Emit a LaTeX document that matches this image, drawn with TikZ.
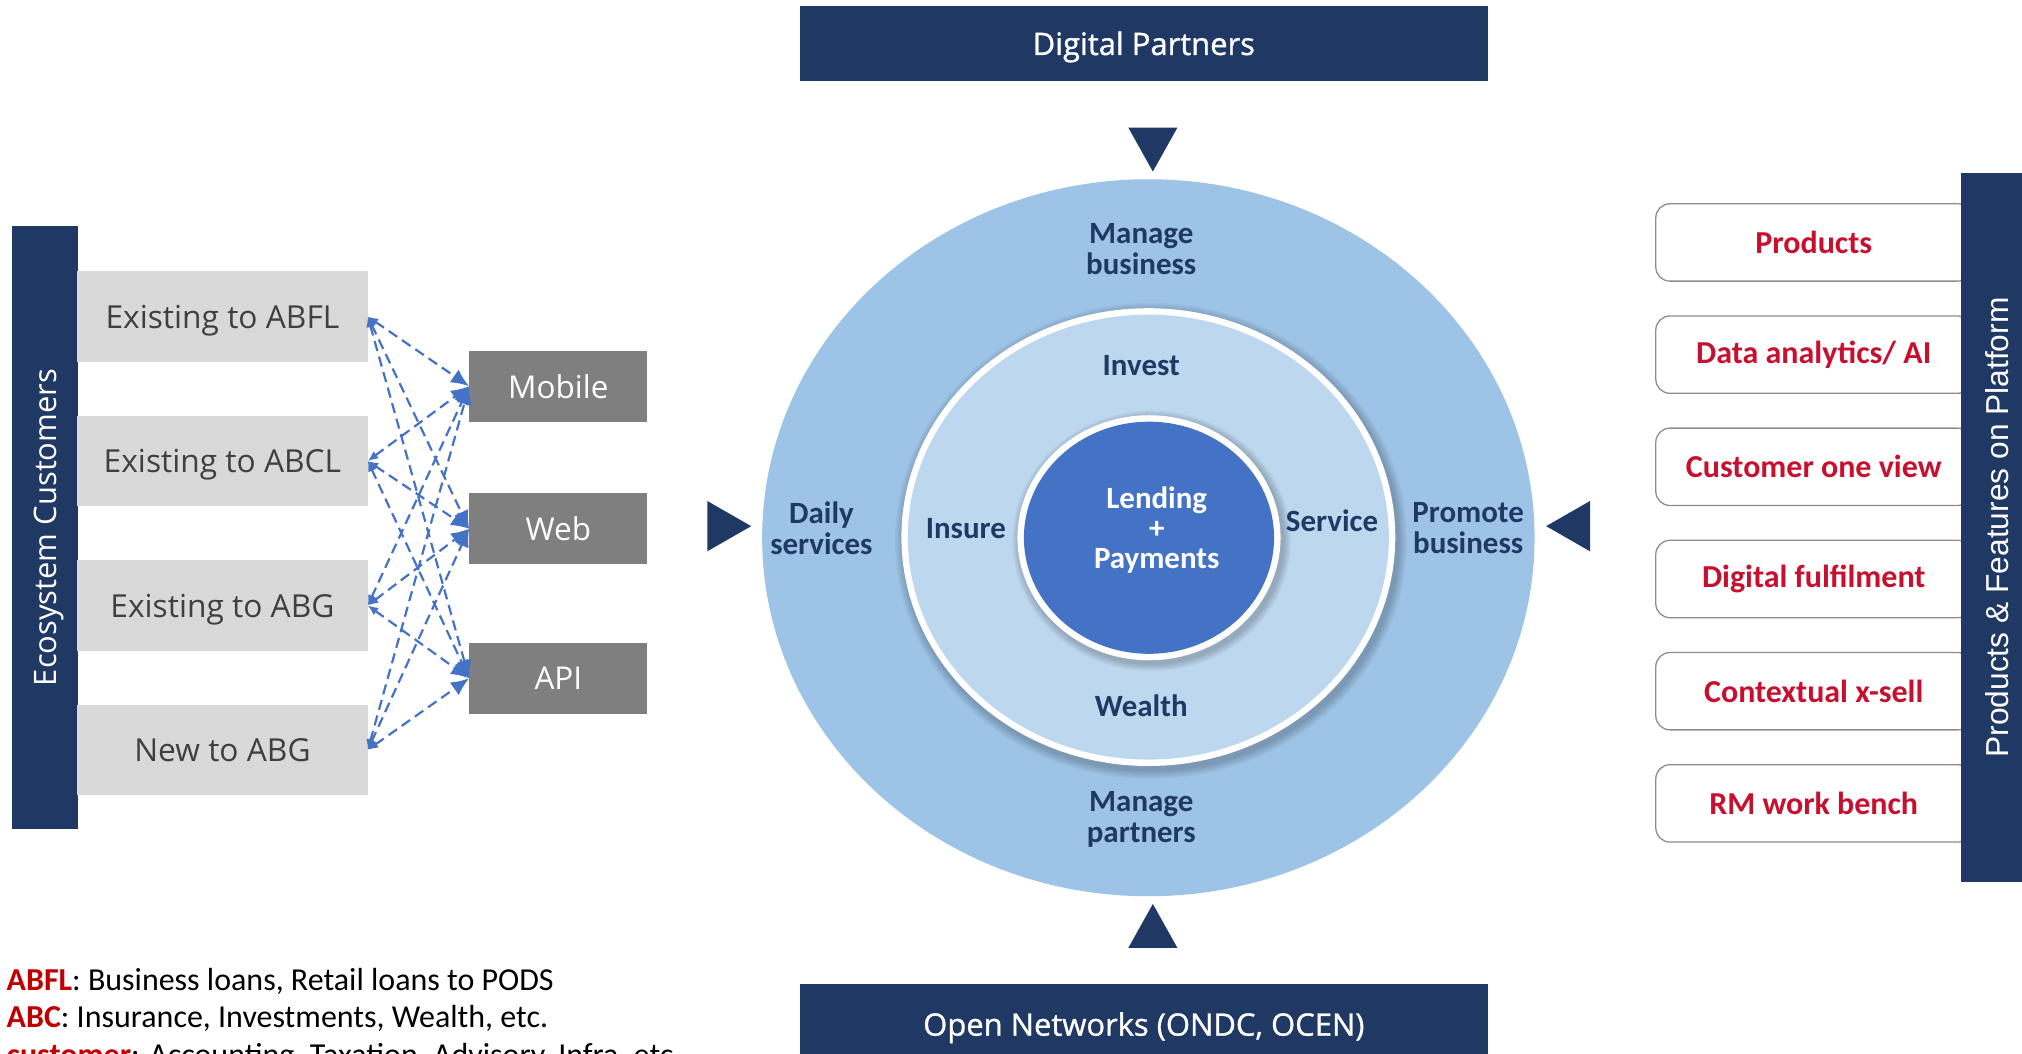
\documentclass[tikz,border=0pt]{standalone}
\usepackage{fontspec}
\usetikzlibrary{arrows.meta}
\setmainfont{Carlito}
\newfontfamily\plexfont{Open Sans}
\newfontfamily\plexheavy[FakeBold=1]{Open Sans}
\newfontfamily\arialfont{Liberation Sans}

\definecolor{navy}{HTML}{203864}
\definecolor{segfill}{HTML}{D9D9D9}
\definecolor{segtext}{HTML}{404040}
\definecolor{chfill}{HTML}{7F7F7F}
\definecolor{linkblue}{HTML}{4472C4}
\definecolor{outerblue}{HTML}{9DC3E6}
\definecolor{midblue}{HTML}{BDD7EE}
\definecolor{coreblue}{HTML}{4472C4}
\definecolor{hubtext}{HTML}{1F3864}
\definecolor{featline}{HTML}{8C8C8C}
\definecolor{featred}{HTML}{C8102E}
\definecolor{legendred}{HTML}{C00000}

\begin{document}
\begin{tikzpicture}[x=1pt, y=-1pt,
  band/.style={fill=navy, text=white, inner sep=0pt},
  segment/.style={fill=segfill, text=segtext, minimum width=225pt, minimum height=70pt,
    inner sep=0pt, text depth=0pt, font=\plexfont\fontsize{24.6}{28}\selectfont},
  channel/.style={fill=chfill, text=white, minimum width=138pt, minimum height=55pt,
    inner sep=0pt, text depth=0pt, font=\plexfont\fontsize{24.4}{28}\selectfont},
  link/.style={draw=linkblue, line width=1.7pt, dash pattern=on 8pt off 4.5pt,
    {Latex[length=8pt,width=7pt]}-{Latex[length=14pt,width=12pt]}},
  banner/.style={fill=navy, minimum width=534pt, inner sep=0pt},
  bannertext/.style={text=white, inner sep=0pt, text depth=0pt,
    font=\plexheavy\fontsize{24}{28}\selectfont},
  hublabel/.style={text=hubtext, align=center, inner sep=0pt,
    font=\bfseries\fontsize{24}{24}\selectfont},
  feature/.style={draw=featline, line width=1pt, rounded corners=11pt, fill=white,
    text=featred, minimum width=245pt, minimum height=60pt, inner sep=0pt,
    font=\bfseries\fontsize{24.8}{28}\selectfont},
  pointer/.style={fill=navy},
  legend/.style={anchor=base west, inner sep=0pt, font=\fontsize{24.8}{29}\selectfont}
]
\useasboundingbox (0,0) rectangle (1568,817);

% ---------- left: ecosystem customers and channels ----------
\node[band, rotate=90, minimum width=468pt, minimum height=51pt, text depth=0pt,
      font=\plexfont\fontsize{24}{28}\selectfont] (eco) at (34.75,409) {Ecosystem Customers};

\node[segment] (abfl) at (172.5,245.5) {Existing to ABFL};
\node[segment] (abcl) at (172.5,357.5) {Existing to ABCL};
\node[segment] (abg)  at (172.5,469.5) {Existing to ABG};
\node[segment] (new)  at (172.5,581.5) {New to ABG};

\node[channel] (mobile) at (433,299.5) {Mobile};
\node[channel] (web)    at (433,410)   {Web};
\node[channel] (api)    at (433,526)   {API};

\foreach \src in {abfl,abcl,abg,new}
  \foreach \dst in {mobile,web,api}
    \draw[link] (\src.east) -- (\dst.west);

% ---------- centre: partner banners ----------
\node[banner, minimum height=58pt] (partners) at (887,33.5) {};
\node[bannertext] (partnerstext) at (partners.center) {Digital Partners};
\node[banner, minimum height=60pt] (open) at (887,793) {};
\node[bannertext] (opentext) at ([yshift=-1pt]open.center) {Open Networks (ONDC, OCEN)};

% ---------- centre: hub rings ----------
\fill[outerblue] (890.5,417) ellipse [x radius=299.5pt, y radius=278pt];

\foreach \k in {1,...,7}
  \fill[black, opacity=0.03] (892.5,419.5) ellipse [x radius={(191.5+\k)*1pt}, y radius={(177.5+\k)*1pt}];
\fill[white] (890.5,416.5) ellipse [x radius=191.5pt, y radius=177.5pt];
\fill[midblue] (890.5,416.5) ellipse [x radius=186.5pt, y radius=172.5pt];

\foreach \k in {1,...,6}
  \fill[black, opacity=0.035] (893,419.5) ellipse [x radius={(102+\k)*1pt}, y radius={(95+\k)*1pt}];
\fill[white] (891,417) ellipse [x radius=102pt, y radius=95pt];
\fill[coreblue] (891,417) ellipse [x radius=97pt, y radius=90pt];

\node[hublabel] (mbiz)    at (885,193.5) {Manage\\business};
\node[hublabel] (mpart)   at (885,635.5) {Manage\\partners};
\node[hublabel] (daily)   at (637,409.5) {Daily\\services};
\node[hublabel] (promote) at (1138.5,409.5) {Promote\\business};
\node[hublabel] (invest)  at (885,283.5) {Invest};
\node[hublabel] (wealth)  at (885,547.5) {Wealth};
\node[hublabel] (insure)  at (749,410)   {Insure};
\node[hublabel] (service) at (1033,404)  {Service};
\node[hublabel, text=white, font=\bfseries\fontsize{24}{23.5}\selectfont] (core) at (897,411) {Lending\\+\\Payments};

% ---------- pointers into the hub ----------
\fill[pointer] (875,99) -- (913,99) -- (894,133) -- cycle;
\fill[pointer] (875,735) -- (913,735) -- (894,701) -- cycle;
\fill[pointer] (548.5,388.5) -- (548.5,427.5) -- (582.5,408) -- cycle;
\fill[pointer] (1233,388.5) -- (1233,427.5) -- (1199,408) -- cycle;

% ---------- right: platform features ----------
\node[feature] (prod) at (1406.5,188) {Products};
\node[feature] (data) at (1406.5,275) {Data analytics/ AI};
\node[feature] (cov)  at (1406.5,362) {Customer one view};
\node[feature] (dfl)  at (1406.5,449) {Digital fulfilment};
\node[feature] (xsell) at (1406.5,536) {Contextual x-sell};
\node[feature] (rm)   at (1406.5,623) {RM work bench};

\node[band, rotate=90, minimum width=550pt, minimum height=55pt,
      font=\arialfont\fontsize{24.6}{28}\selectfont] (platform) at (1548.5,409) {Products \& Features on Platform};

% ---------- legend ----------
\node[legend] (l1) at (5,768) {\textcolor{legendred}{\textbf{ABFL}}: Business loans, Retail loans to PODS};
\node[legend] (l2) at (5,797) {\textcolor{legendred}{\textbf{ABC}}: Insurance, Investments, Wealth, etc.};
\node[legend] (l3) at (5,826) {\textcolor{legendred}{\textbf{customer}}: Accounting, Taxation, Advisory, Infra, etc.};
\end{tikzpicture}
\end{document}
